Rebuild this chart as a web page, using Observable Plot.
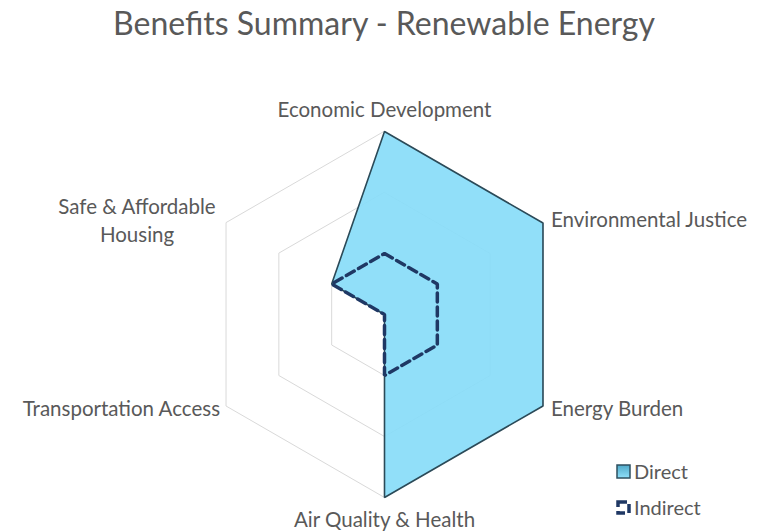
<!DOCTYPE html>
<html><head><meta charset="utf-8">
<script src="https://cdn.jsdelivr.net/npm/d3@7"></script>
<script src="https://cdn.jsdelivr.net/npm/@observablehq/plot@0.6"></script>
<style>
body{margin:0;background:#fff;}
#wrap{position:relative;width:760px;height:531px;font-family:Lato,"Open Sans",sans-serif;overflow:hidden;}
#title{height:50px;text-align:center;font-size:32px;color:#595959;line-height:46px;padding-left:8px;}
#chart svg{display:block;}
.lg{position:absolute;left:616px;font-size:20px;color:#595959;display:flex;align-items:center;gap:3px;}
</style></head>
<body>
<div id="wrap">
  <div id="title">Benefits Summary - Renewable Energy</div>
  <div id="chart"></div>
  <div class="lg" style="top:459px"><svg width="15" height="15"><defs><linearGradient id="g" x1="0" y1="0" x2="0" y2="1"><stop offset="0" stop-color="#4fa9c9"/><stop offset="1" stop-color="#8fe0fa"/></linearGradient></defs><rect x="1" y="1" width="13" height="13" fill="url(#g)" stroke="#2e4f5f" stroke-width="1.5"/></svg><span>Direct</span></div>
  <div class="lg" style="top:495px"><svg width="15" height="15"><rect x="2" y="2" width="11" height="11" fill="none" stroke="#1f3864" stroke-width="3.5" stroke-dasharray="9,4"/></svg><span>Indirect</span></div>
</div>
<script>
const categories = ["Economic Development","Environmental Justice","Energy Burden","Air Quality & Health","Transportation Access","Safe & Affordable Housing"];
const labelText = ["Economic Development","Environmental Justice","Energy Burden","Air Quality & Health","Transportation Access","Safe & Affordable\nHousing"];
const direct = [3,3,3,3,0,1];
const indirect = [1,1,1,1,0,1];
const gridLevels = [1,2,3];
const maxValue = 3;

const n = categories.length;
const ang = i => i * 2 * Math.PI / n;
const pt = (v, i) => ({x: v * Math.sin(ang(i)), y: v * Math.cos(ang(i))});

const gridPts = gridLevels.flatMap(l => categories.map((c, i) => ({...pt(l, i), level: l})));
const directPts = direct.map((v, i) => ({...pt(v, i), category: categories[i]}));
const indirectPts = indirect.map((v, i) => ({...pt(v, i), category: categories[i]}));
const labels = labelText.map((t, i) => ({...pt(maxValue, i), text: t, i}));

const labelStyle = [
  {textAnchor: "middle", dx: 0, dy: -23},
  {textAnchor: "start", dx: 8, dy: -5},
  {textAnchor: "start", dx: 8, dy: 1},
  {textAnchor: "middle", dx: 0, dy: 21},
  {textAnchor: "end", dx: -6, dy: 1},
  {textAnchor: "middle", dx: -89, dy: -4}
];

const cx = 384, cy = 264, R = 183;
const chart = Plot.plot({
  width: 760, height: 481,
  margin: 0,
  x: {domain: [-maxValue, maxValue], range: [cx - R, cx + R], axis: null},
  y: {domain: [-maxValue, maxValue], range: [cy + R, cy - R], axis: null},
  style: {fontFamily: "Lato, 'Open Sans', sans-serif", background: "#fff"},
  marks: [
    Plot.line(gridPts, {x: "x", y: "y", z: "level", curve: "linear-closed", stroke: "#d9d9d9", strokeWidth: 1}),
    Plot.line(directPts, {x: "x", y: "y", curve: "linear-closed", fill: "#88dcf8", fillOpacity: 0.92, stroke: "#2b4a58", strokeWidth: 1.6, strokeLinejoin: "miter", style: "filter: drop-shadow(1px 2px 2px rgba(0,0,0,0.35))"}),
    Plot.line(indirectPts, {x: "x", y: "y", curve: "linear-closed", stroke: "#1f3864", strokeWidth: 3.5, strokeDasharray: "9,5", strokeLinejoin: "miter"}),
    ...labelStyle.map((s, k) => Plot.text(labels.filter(d => d.i === k), {x: "x", y: "y", text: "text", fill: "#595959", fontSize: 20.5, lineHeight: 1.35, ...s}))
  ]
});
document.getElementById("chart").appendChild(chart);
</script>
</body></html>
